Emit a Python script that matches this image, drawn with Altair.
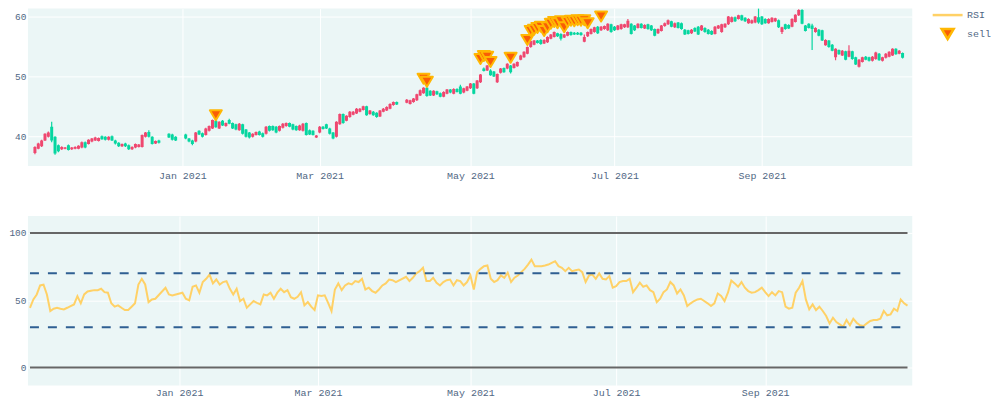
import altair as alt
import numpy as np
import pandas as pd

# trading days; weekends are cut out of the time axis (like plotly rangebreaks)
holidays = ["2020-12-24", "2020-12-25", "2020-12-31", "2021-01-01", "2021-04-02", "2021-04-05"]
dates = [d.strftime("%Y-%m-%d") for d in pd.bdate_range("2020-11-02", "2021-10-29")
         if d.strftime("%Y-%m-%d") not in holidays]

opens = [
    37.2, 37.9, 38.3, 39.3, 39.9, 41.6, 39.9, 38.5, 37.8, 37.9, 38.5, 37.8, 37.9, 37.9, 38.1, 39.0, 38.7, 39.1, 39.3,
    39.2, 40.0, 39.9, 39.4, 40.0, 39.3, 38.9, 38.3, 38.8, 38.5, 37.8, 38.1, 38.2, 38.2, 39.9, 40.7, 39.9, 38.8, 39.3,
    40.4, 40.3, 39.9,
    40.3, 39.6, 39.3, 39.1, 40.9, 40.5, 40.2, 40.9, 41.3, 42.6, 41.3, 42.6, 41.7, 42.7, 42.2, 42.0, 41.0, 42.0, 41.1,
    40.6, 39.9, 40.2, 40.8, 40.5, 40.4, 41.7, 41.7, 41.6, 40.9, 41.4, 41.7, 42.2, 42.0, 41.7, 41.0, 40.9, 42.2, 41.0,
    40.9, 39.8, 40.6,
    41.6, 42.0, 41.3, 40.6, 39.9, 42.0, 43.7, 42.6, 43.2, 43.6, 43.8, 44.1, 44.4, 45.0, 43.7, 44.1, 43.9, 43.3, 44.1,
    44.3, 44.6, 45.2, 45.7,
    45.6, 45.4, 45.7, 46.0, 46.8, 47.2, 48.1, 47.6, 46.8, 47.5, 47.2, 46.6, 47.1, 47.8, 47.1, 47.9, 48.3, 47.3, 47.6,
    48.0,
    48.8, 48.0, 49.0, 51.3, 51.0, 51.0, 50.8, 49.0, 50.6, 51.4, 51.3, 51.8, 51.4, 51.7, 52.8, 53.2, 53.8, 54.9, 55.3,
    56.0, 56.1, 55.5, 55.7, 56.3, 56.6, 57.2, 57.1, 56.5, 56.8, 57.4, 57.3, 57.3, 57.3, 55.8, 56.7, 57.1, 57.4, 58.3,
    57.7, 57.9, 57.7, 58.7, 58.3,
    57.8, 57.9, 58.2, 58.2, 58.8, 58.5, 58.1, 58.8, 58.0, 58.7, 58.5, 57.9, 57.2, 57.6, 58.4, 58.7, 59.2, 58.2, 59.0,
    58.9, 57.8, 57.7, 57.2, 58.1, 58.3, 57.7, 58.1, 57.8, 57.6, 57.1, 58.0, 57.4, 58.2, 58.7, 59.1, 59.9, 59.6, 60.2,
    59.8, 58.9, 58.9, 59.0, 59.9,
    60.0, 59.6, 58.9, 59.1, 59.2, 59.4, 57.4, 58.7, 58.6, 58.3, 59.1, 60.2, 61.1, 58.5, 58.8, 58.5, 57.4, 57.8, 57.7,
    55.2, 56.0, 55.3, 53.2, 54.4, 53.5, 54.2, 53.3, 54.2, 53.2, 51.6, 52.4, 53.3, 53.2, 52.6, 52.9, 53.8, 52.6, 53.1,
    53.3, 53.5, 54.6, 53.8, 53.9,
]
closes = [
    38.2, 38.8, 39.3, 40.4, 40.6, 39.3, 37.1, 37.5, 38.2, 38.1, 37.7, 38.1, 38.2, 38.4, 39.0, 38.1, 39.4, 39.6, 39.8,
    39.7, 39.5, 39.4, 39.9, 39.3, 38.8, 38.3, 38.7, 38.3, 37.8, 38.2, 38.7, 38.6, 40.2, 40.6, 39.9, 38.7, 39.2, 38.9,
    39.8, 39.4, 39.3,
    39.6, 39.1, 38.7, 40.6, 40.3, 39.9, 41.3, 41.7, 42.7, 41.5, 42.4, 41.8, 42.2, 42.1, 41.3, 41.1, 42.1, 40.4, 39.9,
    39.8, 40.4, 40.7, 40.2, 39.9, 41.6, 40.9, 41.0, 40.6, 41.7, 42.1, 42.2, 41.6, 41.1, 41.0, 41.8, 42.1, 40.2, 40.3,
    40.2, 40.1, 41.6,
    41.2, 41.3, 40.4, 39.6, 42.4, 43.7, 42.2, 43.4, 44.1, 44.1, 44.6, 44.6, 45.0, 43.5, 44.3, 43.5, 43.2, 44.3, 44.6,
    44.9, 45.4, 45.7, 45.3,
    46.1, 46.0, 46.3, 47.0, 47.7, 48.1, 46.7, 46.8, 47.6, 47.0, 46.6, 47.4, 47.8, 47.3, 47.9, 47.4, 47.1, 48.0, 48.3,
    48.8,
    47.1, 49.3, 50.3, 50.9, 51.8, 50.2, 50.0, 50.4, 51.3, 50.7, 52.1, 50.7, 52.1, 52.4, 53.5, 54.1, 54.9, 55.9, 56.0,
    55.6, 55.4, 56.1, 56.6, 57.0, 57.4, 56.7, 56.3, 57.0, 57.4, 56.9, 57.0, 57.0, 56.9, 56.6, 57.4, 57.9, 58.2, 57.2,
    58.3, 58.4, 58.8, 57.4, 57.7,
    58.5, 58.7, 58.7, 59.3, 57.1, 57.7, 58.8, 58.1, 58.6, 57.9, 57.7, 56.8, 57.9, 58.5, 58.9, 59.4, 58.3, 58.9, 58.1,
    57.9, 57.0, 57.1, 57.8, 57.5, 57.0, 58.5, 57.4, 57.1, 57.0, 58.3, 58.5, 58.7, 58.8, 60.0, 59.9, 59.2, 60.2, 59.4,
    59.2, 59.6, 59.4, 60.0, 59.0,
    58.7, 58.9, 59.6, 59.8, 59.7, 58.2, 58.2, 57.9, 58.0, 59.6, 60.3, 61.1, 58.8, 57.6, 58.1, 57.9, 58.1, 56.8, 56.0,
    56.1, 54.9, 54.3, 54.6, 53.7, 54.3, 52.8, 54.3, 52.9, 52.0, 52.8, 53.2, 52.8, 52.6, 53.3, 54.0, 52.7, 53.2, 53.8,
    54.1, 54.6, 53.7, 54.3, 53.1,
]
highs = [
    38.3, 38.9, 39.4, 40.5, 40.8, 42.4, 40.0, 38.6, 38.3, 38.2, 38.6, 38.2, 38.3, 38.5, 39.1, 39.1, 39.5, 39.7, 39.9,
    39.8, 40.1, 40.0, 40.0, 40.1, 39.4, 39.0, 38.8, 38.9, 38.6, 38.3, 38.8, 38.7, 40.3, 40.7, 41.0, 40.0, 39.3, 39.4,
    40.5, 40.4, 40.0,
    40.4, 39.7, 39.4, 40.7, 41.0, 40.6, 41.4, 41.8, 42.8, 42.7, 42.5, 42.7, 42.3, 42.9, 42.3, 42.1, 42.2, 42.1, 41.2,
    40.7, 40.5, 40.8, 40.9, 40.6, 41.7, 41.8, 41.8, 41.7, 41.8, 42.2, 42.3, 42.3, 42.1, 41.8, 41.9, 42.2, 42.3, 41.1,
    41.0, 40.2, 41.7,
    41.7, 42.1, 41.4, 40.7, 42.5, 43.8, 43.8, 43.5, 44.2, 44.2, 44.7, 44.7, 45.1, 45.1, 44.4, 44.2, 44.0, 44.4, 44.7,
    45.0, 45.5, 45.8, 45.8,
    46.2, 46.1, 46.4, 47.1, 47.8, 48.2, 48.2, 47.7, 47.7, 47.6, 47.3, 47.5, 47.9, 47.9, 48.0, 48.0, 48.6, 48.1, 48.4,
    48.9,
    48.9, 49.4, 50.4, 51.5, 51.9, 51.2, 50.9, 50.5, 51.4, 51.5, 52.2, 51.9, 52.2, 52.5, 53.6, 54.2, 55.0, 56.0, 56.1,
    56.1, 56.2, 56.2, 56.7, 57.1, 57.5, 57.3, 57.2, 57.1, 57.5, 57.5, 57.4, 57.4, 57.4, 57.0, 57.5, 58.0, 58.3, 58.4,
    58.4, 58.5, 58.9, 58.8, 58.4,
    58.6, 58.8, 58.8, 59.6, 58.9, 58.6, 58.9, 58.9, 58.7, 58.8, 58.6, 58.0, 58.0, 58.6, 59.0, 59.5, 59.3, 59.0, 59.1,
    59.0, 57.9, 57.8, 57.9, 58.2, 58.4, 58.6, 58.2, 57.9, 57.7, 58.4, 58.6, 58.8, 58.9, 60.1, 60.0, 60.0, 60.3, 60.3,
    59.9, 59.7, 59.5, 60.1, 61.4,
    60.1, 59.7, 59.7, 59.9, 59.8, 59.5, 58.3, 58.8, 58.7, 59.7, 60.4, 61.2, 61.2, 58.6, 58.9, 58.8, 58.2, 57.9, 57.8,
    56.2, 56.1, 55.4, 54.7, 54.5, 54.4, 54.3, 55.2, 54.3, 53.3, 52.9, 53.3, 53.4, 53.3, 53.4, 54.1, 53.9, 53.3, 53.9,
    54.2, 54.7, 54.7, 54.4, 54.0,
]
lows = [
    37.0, 37.8, 38.2, 39.2, 39.8, 39.0, 36.9, 37.3, 37.7, 37.8, 37.6, 37.7, 37.8, 37.8, 38.0, 38.0, 38.6, 39.0, 39.2,
    39.1, 39.4, 39.3, 39.3, 39.2, 38.6, 38.2, 38.2, 38.2, 37.7, 37.7, 38.0, 38.1, 38.1, 39.8, 39.8, 38.6, 38.7, 38.8,
    39.7, 39.3, 39.2,
    39.5, 39.0, 38.5, 39.0, 40.2, 39.8, 40.1, 40.8, 41.2, 41.4, 41.2, 41.7, 41.6, 42.0, 41.2, 41.0, 40.9, 40.3, 39.8,
    39.6, 39.8, 40.1, 40.1, 39.8, 40.3, 40.8, 40.9, 40.5, 40.8, 41.3, 41.6, 41.5, 41.0, 40.9, 40.9, 40.8, 40.1, 40.2,
    40.1, 39.7, 40.5,
    41.1, 41.2, 40.3, 39.5, 39.8, 41.9, 42.1, 42.5, 43.1, 43.5, 43.7, 44.0, 44.3, 43.4, 43.6, 43.4, 43.1, 43.2, 44.0,
    44.2, 44.5, 45.1, 45.2,
    45.5, 45.3, 45.6, 45.9, 46.7, 47.1, 46.6, 46.7, 46.7, 46.9, 46.5, 46.5, 47.0, 47.2, 47.0, 47.3, 47.0, 47.2, 47.5,
    47.9,
    47.0, 47.9, 48.9, 50.8, 50.9, 50.1, 49.9, 48.9, 50.5, 50.6, 51.2, 50.5, 51.3, 51.6, 52.7, 53.1, 53.7, 54.8, 55.2,
    55.5, 55.3, 55.4, 55.6, 56.2, 56.5, 56.6, 56.0, 56.4, 56.7, 56.8, 56.9, 56.9, 56.8, 55.7, 56.6, 57.0, 57.3, 57.1,
    57.6, 57.8, 57.6, 57.3, 57.6,
    57.7, 57.8, 58.1, 58.1, 57.0, 57.6, 58.0, 58.0, 57.9, 57.8, 57.6, 56.7, 57.1, 57.5, 58.3, 58.6, 58.2, 58.1, 58.0,
    57.8, 56.9, 57.0, 57.1, 57.4, 56.9, 57.6, 57.3, 57.0, 56.9, 57.0, 57.9, 57.3, 58.1, 58.6, 59.0, 59.1, 59.5, 59.3,
    59.1, 58.8, 58.8, 58.9, 58.8,
    58.6, 58.8, 58.8, 59.0, 59.1, 58.1, 57.1, 57.8, 57.9, 58.2, 59.0, 60.1, 58.7, 57.5, 58.0, 54.4, 57.3, 56.7, 55.9,
    55.1, 54.8, 54.2, 52.7, 53.6, 53.4, 52.7, 53.2, 52.8, 51.9, 51.5, 52.3, 52.7, 52.5, 52.5, 52.8, 52.6, 52.5, 53.0,
    53.2, 53.4, 53.6, 53.7, 53.0,
]
rsi = [
    44.4, 50.6, 54.3, 61.0, 61.5, 54.3, 42.0, 43.7, 44.4, 43.7, 43.2, 44.4, 45.7, 46.9, 53.0, 47.7, 54.3, 56.5, 57.0,
    57.5, 57.5, 58.5, 56.0, 55.6, 47.7, 45.2, 46.2, 44.4, 42.7, 42.7, 45.2, 47.7, 61.7, 65.9, 61.7, 48.6, 50.6, 51.1,
    59.3, 54.3, 53.6,
    55.6, 51.1, 49.9, 60.0, 61.0, 55.6, 63.5, 65.9, 69.1, 62.5, 65.4, 61.7, 63.5, 64.2, 58.5, 54.3, 58.5, 49.4, 51.1,
    44.4, 46.9, 49.4, 48.1, 46.9, 54.3, 53.6, 55.6, 51.1, 55.6, 58.5, 56.0, 57.5, 52.3, 51.1, 52.6, 56.0, 46.2, 48.6,
    45.2, 42.7, 53.6,
    53.1, 53.6, 48.1, 42.0, 58.0, 62.5, 57.5, 61.0, 62.5, 61.7, 64.2, 63.5, 65.9, 58.0, 59.3, 56.8, 55.6, 58.0, 61.0,
    62.5, 65.4, 64.9, 63.5,
    67.4, 64.2, 66.7, 69.9, 71.6, 74.1, 64.2, 64.2, 66.7, 63.0, 61.0, 63.5, 64.9, 65.4, 61.0, 64.9, 64.2, 61.0, 63.5,
    68.4,
    58.0, 70.9, 73.3, 75.3, 75.8, 65.9, 63.5, 64.9, 68.4, 66.7, 70.4, 63.5, 66.7, 68.4, 70.9, 73.3, 76.5, 80.2, 75.3,
    75.3, 75.3, 75.8, 76.5, 77.8, 79.0, 75.3, 74.1, 71.6, 74.1, 71.6, 72.3, 72.8, 70.9, 63.5, 68.4, 69.1, 65.9, 69.9,
    65.9, 65.4, 67.9, 59.3, 60.5,
    63.5, 64.2, 64.2, 65.9, 56.0, 59.3, 63.0, 60.0, 61.0, 57.5, 56.0, 48.6, 51.1, 56.0, 58.0, 63.5, 61.0, 55.0, 58.0,
    53.6, 45.7, 47.7, 49.4, 50.6, 51.1, 49.4, 47.7, 45.7, 47.7, 55.0, 53.1, 49.4, 55.6, 64.7, 62.5, 60.0, 63.5, 59.3,
    56.8, 55.6, 56.0, 57.5, 59.3,
    56.0, 53.1, 56.0, 53.6, 56.8, 56.0, 45.2, 43.7, 44.4, 55.6, 59.3, 64.2, 50.6, 43.2, 46.9, 42.7, 45.2, 42.0, 38.3,
    32.8, 37.0, 33.8, 32.1, 30.4, 35.3, 31.4, 36.3, 33.3, 31.4, 30.9, 32.8, 34.6, 35.3, 35.3, 36.3, 42.0, 38.8, 39.5,
    43.7, 42.0, 50.6, 47.7, 46.0,
]

sell_dates = [
    "2021-01-15", "2021-04-13", "2021-04-14", "2021-05-06", "2021-05-07", "2021-05-10", "2021-05-11",
    "2021-05-19", "2021-05-26", "2021-05-27", "2021-05-28", "2021-05-31", "2021-06-01", "2021-06-02",
    "2021-06-03", "2021-06-04", "2021-06-07", "2021-06-08", "2021-06-09", "2021-06-10", "2021-06-11",
    "2021-06-14", "2021-06-15", "2021-06-16", "2021-06-17", "2021-06-18", "2021-06-21", "2021-06-25",
]
sell_prices = [
    43.5, 49.6, 49.1, 52.9, 53.4, 53.3, 52.4,
    53.1, 56.1, 57.6, 57.8, 58.1, 58.3, 57.6,
    58.2, 58.8, 59.1, 58.9, 59.2, 58.2, 59.1,
    59.3, 59.2, 59.4, 59.3, 59.4, 58.9, 60.0,
]

rsi_limits = [0, 100]
rsi_bands = [30, 70]

tick_dates = ["2021-01-01", "2021-03-01", "2021-05-01", "2021-07-01", "2021-09-01"]
tick_labels = ["Jan 2021", "Mar 2021", "May 2021", "Jul 2021", "Sep 2021"]

n = len(dates)
assert all(len(s) == n for s in (opens, closes, highs, lows, rsi)), \
    (n, len(opens), len(closes), len(highs), len(lows), len(rsi))

UP = "#EF476F"
DOWN = "#06D6A0"
RSI_COLOR = "#FFD166"
BAND_COLOR = "#2F5F92"
LIMIT_COLOR = "#666666"
BG = "#EBF6F6"
TEXT = "#506784"
FONT = "Liberation Mono"
# downward triangle drawn in the unit square, so marker and legend swatch share one size
TRI_DOWN = "M-1.2,-1L1.2,-1L0,1Z"


def trading_pos(days):
    # business-day offset from 1 Jan 2021, so weekends take no room on the axis
    return np.busday_count(np.datetime64("2021-01-01"), np.array(days, dtype="datetime64[D]")).astype(int)


df = pd.DataFrame({"date": dates, "open": opens, "high": highs, "low": lows,
                   "close": closes, "rsi": rsi})
df["pos"] = trading_pos(dates)
df["series"] = "RSI"

sell_df = pd.DataFrame({"date": sell_dates, "price": sell_prices})
sell_df["pos"] = trading_pos(sell_dates)
sell_df["signal"] = "sell"

first_pos, last_pos = int(df["pos"].min()), int(df["pos"].max())
limits_df = pd.DataFrame({"level": rsi_limits, "x0": first_pos, "x1": last_pos})
bands_df = pd.DataFrame({"level": rsi_bands, "x0": first_pos, "x1": last_pos})

tick_pos = [int(p) for p in trading_pos(tick_dates)]
label_expr = " : ".join(f"datum.value == {p} ? '{l}'" for p, l in zip(tick_pos, tick_labels)) + " : ''"

x_scale = alt.Scale(domain=[first_pos - 0.6, last_pos + 1.4], nice=False, zero=False)


def x_axis(pad):
    return alt.Axis(values=tick_pos, labelExpr=label_expr, labelPadding=pad, labelOverlap=False,
                    labelFlush=False, minExtent=14, maxExtent=14)


def y_axis(values):
    return alt.Axis(values=values, labelPadding=2, labelFontSize=9.5, minExtent=20, maxExtent=20)


def legend(y):
    return alt.Legend(title=None, orient="none", legendX=916, legendY=y, symbolSize=100,
                      symbolStrokeWidth=2.5, labelOffset=13)


W = 887

# price panel
candle_color = alt.when(alt.datum.close >= alt.datum.open).then(alt.value(UP)).otherwise(alt.value(DOWN))
x_top = alt.X("pos:Q", scale=x_scale, axis=x_axis(4), title=None)
y_price = alt.Scale(domain=[35, 61.33], nice=False, zero=False)

wicks = alt.Chart(df).mark_rule(strokeWidth=1.2, clip=True).encode(
    x=x_top,
    y=alt.Y("low:Q", scale=y_price, axis=y_axis([40, 50, 60]), title=None),
    y2="high:Q",
    color=candle_color,
)
bodies = alt.Chart(df).mark_bar(size=3, clip=True).encode(
    x=x_top,
    y=alt.Y("open:Q", scale=y_price, axis=y_axis([40, 50, 60]), title=None),
    y2="close:Q",
    color=candle_color,
)
sells = alt.Chart(sell_df).mark_point(
    filled=True, size=100, fill="#F95D06", stroke="#FFB703", strokeWidth=2,
    strokeJoin="round", opacity=1
).encode(
    x=x_top,
    y=alt.Y("price:Q", scale=y_price, axis=y_axis([40, 50, 60]), title=None),
    shape=alt.Shape("signal:N", scale=alt.Scale(domain=["sell"], range=[TRI_DOWN]), legend=legend(19)),
)
top = alt.layer(wicks, bodies, sells).properties(width=W, height=158)

# RSI panel
x_bot = alt.X("pos:Q", scale=x_scale, axis=x_axis(2), title=None)
y_rsi = alt.Scale(domain=[-13.3, 112.6], nice=False, zero=False)
rsi_line = alt.Chart(df).mark_line(strokeWidth=2).encode(
    x=x_bot,
    y=alt.Y("rsi:Q", scale=y_rsi, axis=y_axis([0, 50, 100]), title=None),
    color=alt.Color("series:N", scale=alt.Scale(domain=["RSI"], range=[RSI_COLOR]),
                    legend=alt.Legend(title=None, orient="none", legendX=916, legendY=0,
                                      symbolType="M-3,0H3", symbolSize=100, symbolStrokeWidth=2.5,
                                      labelOffset=13)),
)
limit_lines = alt.Chart(limits_df).mark_rule(color=LIMIT_COLOR, strokeWidth=2).encode(
    x=alt.X("x0:Q", scale=x_scale, axis=x_axis(2), title=None), x2="x1:Q",
    y=alt.Y("level:Q", scale=y_rsi, axis=y_axis([0, 50, 100]), title=None),
)
band_lines = alt.Chart(bands_df).mark_rule(color=BAND_COLOR, strokeWidth=2, strokeDash=[9, 9]).encode(
    x=alt.X("x0:Q", scale=x_scale, axis=x_axis(2), title=None), x2="x1:Q",
    y=alt.Y("level:Q", scale=y_rsi, axis=y_axis([0, 50, 100]), title=None),
)
bottom = alt.layer(rsi_line, limit_lines, band_lines).properties(width=W, height=170)

chart = alt.vconcat(top, bottom, spacing=36).resolve_legend(
    color="shared", shape="shared"
).properties(
    padding=0
).configure_view(
    fill=BG, stroke=None
).configure_axis(
    labelFont=FONT, labelFontSize=10, labelColor=TEXT, grid=True, gridColor="white",
    gridWidth=1, ticks=False, domain=False
).configure_legend(
    labelFont=FONT, labelFontSize=10, labelColor=TEXT, padding=0
)

chart.save("out.html", embed_options={"renderer": "svg", "actions": False})
